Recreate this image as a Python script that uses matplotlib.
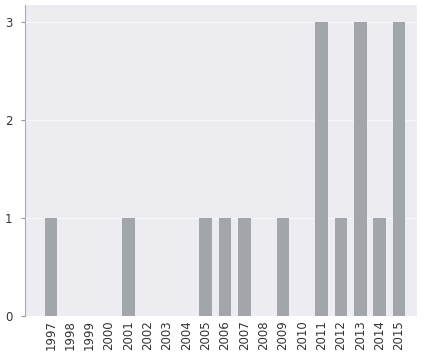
import numpy as np
import matplotlib.pyplot as plt

years = [str(y) for y in range(1997, 2016)]
counts = [1, 0, 0, 0, 1, 0, 0, 0, 1, 1, 1, 0, 1, 0, 3, 1, 3, 1, 3]

fig = plt.figure(figsize=(4.25, 3.58), dpi=100)
ax = fig.add_axes([0.059, 0.117, 0.922, 0.869])
ax.set_facecolor("#ececf1")

x = np.arange(len(years))
ax.bar(x, counts, width=0.65, color="#a2a6aa", zorder=3)

ax.set_xticks(x)
ax.set_xticklabels(years, rotation=90, fontsize=8.5, color="#333333")
ax.set_yticks([0, 1, 2, 3])
ax.set_yticklabels(["0", "1", "2", "3"], fontsize=8.5, color="#333333")
ax.set_xlim(-1.34, 18.93)
ax.set_ylim(0, 3.17)

ax.yaxis.grid(True, color="#f7f7f9", linewidth=1, zorder=0)
ax.tick_params(axis="x", length=0, pad=3)
ax.tick_params(axis="y", length=3, color="#999999", pad=6)
for side in ["top", "right", "bottom"]:
    ax.spines[side].set_visible(False)
ax.spines["left"].set_color("#aaaaaa")

fig.savefig("out.png", dpi=100)
